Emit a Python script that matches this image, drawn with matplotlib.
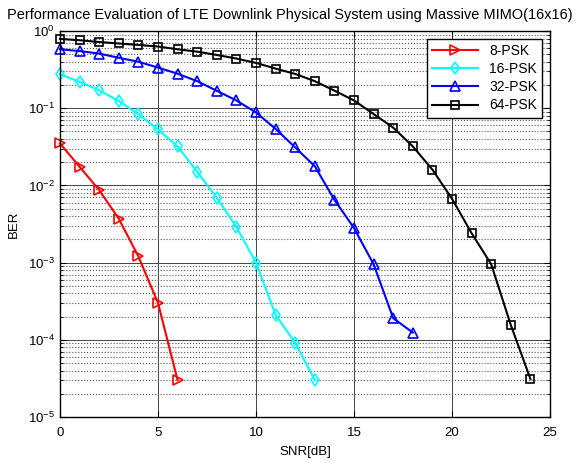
import numpy as np
import matplotlib
matplotlib.use('Agg')
import matplotlib.pyplot as plt
from matplotlib.ticker import LogLocator, NullFormatter

plt.rcParams['font.family'] = ['Liberation Sans', 'DejaVu Sans']

# SNR [dB] axes for each modulation
snr_8 = [0, 1, 2, 3, 4, 5, 6]
snr_16 = list(range(0, 14))
snr_32 = list(range(0, 19))
snr_64 = list(range(0, 25))

# BER values
ber_8 = [0.035, 0.0174, 0.0087, 0.0037, 0.0012, 0.0003, 3.0e-5]
ber_16 = [0.275, 0.22, 0.171, 0.124, 0.084, 0.053, 0.032, 0.015, 0.0069,
          0.0029, 0.001, 0.00021, 9.1e-5, 3.0e-5]
ber_32 = [0.58, 0.55, 0.51, 0.45, 0.40, 0.336, 0.28, 0.224, 0.168, 0.126,
          0.088, 0.054, 0.031, 0.0177, 0.0065, 0.0028, 0.00095, 0.00019, 0.000124]
ber_64 = [0.79, 0.76, 0.72, 0.69, 0.66, 0.63, 0.58, 0.54, 0.49, 0.44, 0.386,
          0.326, 0.278, 0.224, 0.169, 0.126, 0.084, 0.056, 0.032, 0.016,
          0.0067, 0.0024, 0.00095, 0.000155, 3.1e-5]

labels = ['8-PSK', '16-PSK', '32-PSK', '64-PSK']
title = 'Performance Evaluation of LTE Downlink Physical System using Massive MIMO(16x16)'

fig = plt.figure(figsize=(5.79, 4.63), dpi=100)
ax = fig.add_axes([0.1036, 0.0994, 0.8464, 0.8336])

series = [(snr_8, ber_8, '#ff0000', '>'), (snr_16, ber_16, '#00ffff', 'd'),
          (snr_32, ber_32, '#0000ff', '^'), (snr_64, ber_64, '#000000', 's')]
for (x, y, c, m), lab in zip(series, labels):
    ax.semilogy(x, y, color=c, marker=m, markerfacecolor='none', markeredgecolor=c,
                markersize=6.5 if m != 's' else 5.5, markeredgewidth=1.2,
                linewidth=1.5, label=lab, clip_on=False)

ax.set_xlim(0, 25)
ax.set_ylim(1e-5, 1)
ax.set_xticks([0, 5, 10, 15, 20, 25])
ax.yaxis.set_major_locator(LogLocator(base=10, numticks=10))
ax.yaxis.set_minor_locator(LogLocator(base=10, subs=np.arange(2, 10), numticks=10))
ax.yaxis.set_minor_formatter(NullFormatter())

ax.grid(True, which='major', axis='both', color='#444444', linestyle='-', linewidth=0.7)
ax.grid(True, which='minor', axis='y', color='#555555', linestyle=':', linewidth=0.8)
ax.set_axisbelow(True)

ax.tick_params(which='both', direction='in', top=True, right=True, labelsize=9.5)
ax.tick_params(which='major', length=4)
ax.tick_params(axis='x', which='major', pad=7)
ax.tick_params(which='minor', length=2)
for s in ax.spines.values():
    s.set_linewidth(1.0)

ax.set_xlabel('SNR[dB]', fontsize=9.5, labelpad=5)
ax.set_ylabel('BER', fontsize=9.5, labelpad=6)
# title is centred on the figure, not the axes
fig.text(0.5, 0.968, title, fontsize=10.45, ha='center', va='center')

leg = ax.legend(loc='upper right', fontsize=10, fancybox=False, framealpha=1,
                edgecolor='black', borderaxespad=0.55, handlelength=3.3,
                labelspacing=0.3, borderpad=0.38, numpoints=1)
leg.get_frame().set_linewidth(1.0)

fig.savefig('out.png', dpi=100)
